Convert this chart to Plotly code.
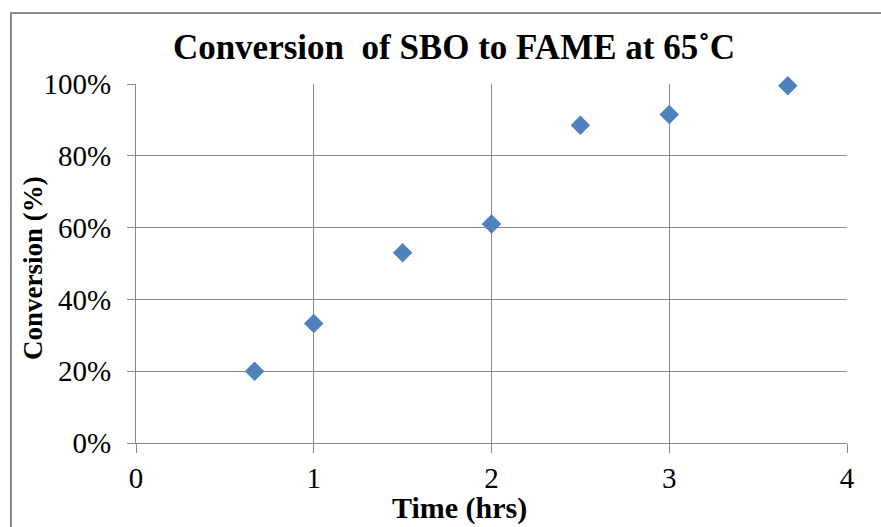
import plotly.graph_objects as go

time_hrs = [0.667, 1.0, 1.5, 2.0, 2.5, 3.0, 3.667]
conversion = [0.20, 0.333, 0.53, 0.61, 0.885, 0.915, 0.995]

x_ticks = [0, 1, 2, 3, 4]
y_ticks = [0, 0.2, 0.4, 0.6, 0.8, 1.0]

GRID = "#8a8a8a"
FONT = "Liberation Serif"

fig = go.Figure()
fig.add_trace(go.Scatter(
    x=time_hrs, y=conversion, mode="markers",
    marker=dict(symbol="diamond", size=15, color="#4F81BD"),
    showlegend=False, cliponaxis=False,
))

W, H = 881, 527
L, R, T, B = 136, 34, 84, 84
pw, ph = W - L - R, H - T - B

def px(xp):
    return (xp - L) / pw

def py(yp):
    return (H - B - yp) / ph

fig.update_layout(
    width=W, height=H,
    margin=dict(l=L, r=R, t=T, b=B),
    paper_bgcolor="white", plot_bgcolor="white",
    font=dict(family=FONT, color="black"),
    title=dict(text="<b>Conversion  of SBO to FAME at 65˚C</b>",
               xref="container", x=454 / W, xanchor="center",
               yref="container", y=1 - 47 / H, yanchor="middle",
               font=dict(size=35, family=FONT, color="black")),
    xaxis=dict(range=[0, 4], tickvals=x_ticks, ticktext=[str(v) for v in x_ticks],
               showgrid=True, gridcolor=GRID, gridwidth=1,
               showline=True, linecolor=GRID, linewidth=1,
               ticks="outside", ticklen=9, tickcolor=GRID,
               zeroline=False,
               tickfont=dict(size=29, family=FONT)),
    yaxis=dict(range=[0, 1.0], tickvals=y_ticks, tickformat=".0%",
               showgrid=True, gridcolor=GRID, gridwidth=1,
               showline=True, linecolor=GRID, linewidth=1,
               ticks="outside", ticklen=8, tickcolor=GRID,
               zeroline=False, ticklabelstandoff=10,
               tickfont=dict(size=29, family=FONT)),
    annotations=[
        dict(text="<b>Time (hrs)</b>", xref="paper", yref="paper",
             x=px(459), y=py(508), xanchor="center", yanchor="middle",
             showarrow=False, font=dict(size=30, family=FONT, color="black")),
        dict(text="<b>Conversion (%)</b>", xref="paper", yref="paper",
             x=px(33), y=py(268), xanchor="center", yanchor="middle", textangle=-90,
             showarrow=False, font=dict(size=27, family=FONT, color="black")),
    ],
    shapes=[dict(type="rect", xref="paper", yref="paper",
                 x0=px(11), x1=px(905), y0=py(545), y1=py(13),
                 line=dict(color="#8c8c8c", width=2), fillcolor="rgba(0,0,0,0)", layer="below")],
)

fig.write_html("out.html")
